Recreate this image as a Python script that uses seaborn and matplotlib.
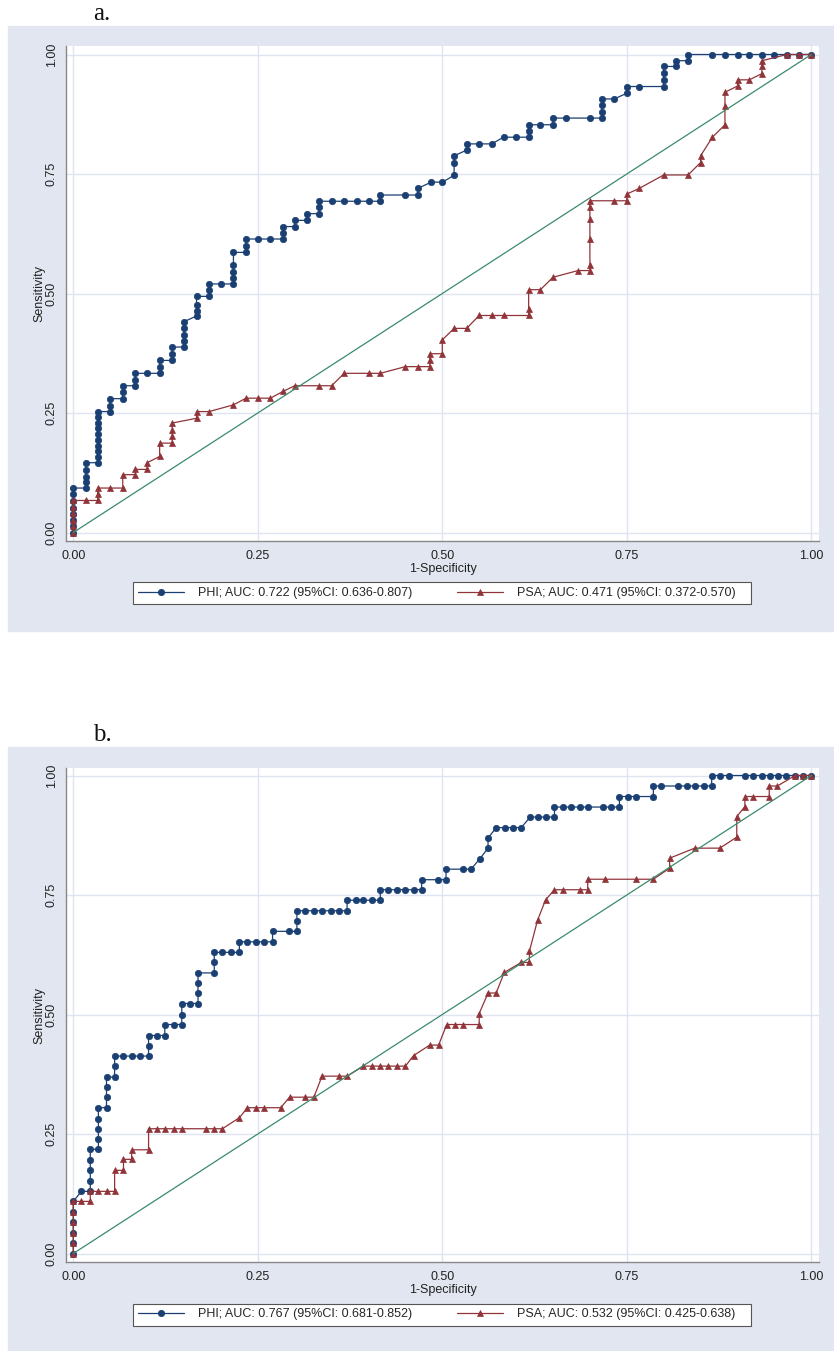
import matplotlib
matplotlib.use("Agg")
import matplotlib.pyplot as plt
import matplotlib.patches as mpatches
import pandas as pd
import seaborn as sns

### DATA ###
# panel a: PHI
phi_a_x = [0, 0, 0, 0, 0, 0, 0, 0,
           0.017, 0.017, 0.017, 0.017, 0.017,
           0.033, 0.033, 0.033, 0.033, 0.033, 0.033, 0.033, 0.033, 0.033, 0.033,
           0.050, 0.050, 0.050, 0.067, 0.067, 0.067, 0.084, 0.084, 0.084,
           0.100, 0.117, 0.117, 0.117, 0.134, 0.134, 0.134,
           0.150, 0.150, 0.150, 0.150, 0.150, 0.167, 0.167, 0.167, 0.167,
           0.184, 0.184, 0.184, 0.200, 0.217, 0.217, 0.217, 0.217, 0.217,
           0.234, 0.234, 0.234, 0.250, 0.267, 0.284, 0.284, 0.284,
           0.300, 0.300, 0.317, 0.317, 0.333, 0.333, 0.333,
           0.350, 0.367, 0.384, 0.400, 0.416, 0.416, 0.450, 0.467, 0.467,
           0.485, 0.500, 0.516, 0.516, 0.516, 0.533, 0.533, 0.550, 0.567,
           0.583, 0.600, 0.617, 0.617, 0.617, 0.633, 0.650, 0.650,
           0.667, 0.700, 0.716, 0.716, 0.716, 0.716, 0.733, 0.750, 0.750,
           0.767, 0.800, 0.800, 0.800, 0.800, 0.816, 0.816, 0.833, 0.833,
           0.866, 0.883, 0.900, 0.916, 0.933, 0.950, 0.967, 0.983, 1.0]
phi_a_y = [0, 0.013, 0.026, 0.039, 0.052, 0.065, 0.080, 0.093,
           0.093, 0.105, 0.117, 0.130, 0.146,
           0.146, 0.158, 0.170, 0.182, 0.194, 0.206, 0.218, 0.230, 0.242, 0.253,
           0.253, 0.265, 0.280, 0.280, 0.293, 0.307, 0.307, 0.320, 0.333,
           0.333, 0.333, 0.347, 0.360, 0.360, 0.374, 0.388,
           0.388, 0.400, 0.413, 0.427, 0.441, 0.453, 0.464, 0.476, 0.494,
           0.494, 0.507, 0.520, 0.520, 0.520, 0.532, 0.546, 0.560, 0.586,
           0.586, 0.600, 0.614, 0.614, 0.614, 0.614, 0.627, 0.640,
           0.640, 0.653, 0.653, 0.667, 0.667, 0.680, 0.693,
           0.693, 0.693, 0.693, 0.693, 0.693, 0.706, 0.706, 0.706, 0.720,
           0.733, 0.733, 0.747, 0.773, 0.788, 0.800, 0.813, 0.813, 0.813,
           0.827, 0.827, 0.827, 0.840, 0.853, 0.853, 0.853, 0.867,
           0.867, 0.867, 0.867, 0.880, 0.894, 0.907, 0.907, 0.919, 0.933,
           0.933, 0.933, 0.947, 0.961, 0.975, 0.975, 0.987, 0.987, 1.0,
           1.0, 1.0, 1.0, 1.0, 1.0, 1.0, 1.0, 1.0, 1.0]

# panel a: PSA
psa_a_x = [0, 0, 0, 0, 0, 0,
           0.017, 0.033, 0.033, 0.033, 0.050, 0.067, 0.067,
           0.084, 0.084, 0.100, 0.100, 0.117, 0.117,
           0.134, 0.134, 0.134, 0.134, 0.167, 0.167, 0.184,
           0.217, 0.234, 0.250, 0.267, 0.284,
           0.300, 0.333, 0.350, 0.367, 0.400, 0.416,
           0.450, 0.467, 0.483, 0.483, 0.483, 0.500, 0.500,
           0.516, 0.533, 0.550, 0.567, 0.583, 0.617, 0.617, 0.617, 0.633,
           0.650, 0.684, 0.700, 0.700, 0.700, 0.700, 0.700, 0.700,
           0.733, 0.750, 0.750, 0.767, 0.800, 0.833, 0.850, 0.850,
           0.866, 0.883, 0.883, 0.883, 0.900, 0.900, 0.916,
           0.933, 0.933, 0.933, 0.967, 0.983, 1.0]
psa_a_y = [0, 0.013, 0.027, 0.040, 0.054, 0.067,
           0.067, 0.067, 0.080, 0.093, 0.093, 0.093, 0.121,
           0.121, 0.132, 0.132, 0.146, 0.159, 0.187,
           0.187, 0.201, 0.215, 0.229, 0.239, 0.253, 0.253,
           0.267, 0.281, 0.281, 0.281, 0.295,
           0.307, 0.307, 0.307, 0.333, 0.333, 0.333,
           0.347, 0.347, 0.347, 0.361, 0.374, 0.374, 0.403,
           0.427, 0.427, 0.454, 0.454, 0.454, 0.454, 0.467, 0.508, 0.508,
           0.534, 0.548, 0.548, 0.560, 0.614, 0.655, 0.682, 0.694,
           0.694, 0.694, 0.708, 0.720, 0.748, 0.748, 0.774, 0.788,
           0.827, 0.853, 0.893, 0.921, 0.934, 0.947, 0.947,
           0.960, 0.975, 0.987, 1.0, 1.0, 1.0]

# panel b: PHI
phi_b_x = [0, 0, 0, 0, 0, 0,
           0.011, 0.023, 0.023, 0.023, 0.023, 0.023,
           0.034, 0.034, 0.034, 0.034, 0.034,
           0.045, 0.045, 0.045, 0.045, 0.056, 0.056, 0.056,
           0.068, 0.079, 0.090, 0.102, 0.102, 0.102,
           0.113, 0.124, 0.124, 0.136, 0.147, 0.147, 0.147,
           0.158, 0.169, 0.169, 0.169, 0.169,
           0.191, 0.191, 0.191, 0.202, 0.214, 0.225, 0.225,
           0.236, 0.248, 0.259, 0.270, 0.270,
           0.292, 0.303, 0.303, 0.303,
           0.314, 0.326, 0.337, 0.349, 0.360, 0.371, 0.371,
           0.383, 0.393, 0.405, 0.416, 0.416,
           0.427, 0.439, 0.450, 0.461, 0.472, 0.472,
           0.494, 0.505, 0.505, 0.528, 0.539, 0.551, 0.562, 0.562,
           0.573, 0.585, 0.596, 0.607, 0.619, 0.630, 0.641, 0.652, 0.652,
           0.663, 0.674, 0.686, 0.697, 0.718, 0.729, 0.740, 0.740,
           0.752, 0.763, 0.786, 0.786,
           0.797, 0.820, 0.831, 0.843, 0.854, 0.865, 0.865,
           0.876, 0.888, 0.910, 0.921, 0.933, 0.944, 0.955, 0.966, 0.978, 0.989, 1.0]
phi_b_y = [0, 0.022, 0.043, 0.066, 0.087, 0.109,
           0.130, 0.130, 0.151, 0.174, 0.195, 0.218,
           0.218, 0.240, 0.261, 0.282, 0.305,
           0.305, 0.327, 0.348, 0.369, 0.369, 0.392, 0.413,
           0.413, 0.413, 0.413, 0.413, 0.435, 0.456,
           0.456, 0.456, 0.479, 0.479, 0.479, 0.500, 0.523,
           0.523, 0.523, 0.544, 0.566, 0.587,
           0.587, 0.609, 0.630, 0.630, 0.630, 0.630, 0.652,
           0.652, 0.652, 0.652, 0.652, 0.674,
           0.674, 0.674, 0.695, 0.717,
           0.717, 0.717, 0.717, 0.717, 0.717, 0.717, 0.739,
           0.739, 0.739, 0.739, 0.739, 0.761,
           0.761, 0.761, 0.761, 0.761, 0.761, 0.782,
           0.782, 0.782, 0.804, 0.804, 0.804, 0.826, 0.848, 0.869,
           0.891, 0.891, 0.891, 0.891, 0.913, 0.913, 0.913, 0.913, 0.934,
           0.934, 0.934, 0.934, 0.934, 0.934, 0.934, 0.934, 0.956,
           0.956, 0.956, 0.956, 0.978,
           0.978, 0.978, 0.978, 0.978, 0.978, 0.978, 1.0,
           1.0, 1.0, 1.0, 1.0, 1.0, 1.0, 1.0, 1.0, 1.0, 1.0, 1.0]

# panel b: PSA
psa_b_x = [0, 0, 0, 0, 0, 0,
           0.011, 0.023, 0.023, 0.034, 0.045, 0.056, 0.056,
           0.068, 0.068, 0.079, 0.079, 0.102, 0.102,
           0.113, 0.124, 0.136, 0.147, 0.180, 0.191, 0.202,
           0.225, 0.236, 0.248, 0.259, 0.281,
           0.293, 0.314, 0.326, 0.337, 0.360, 0.371,
           0.393, 0.405, 0.416, 0.427, 0.439, 0.450,
           0.461, 0.483, 0.495, 0.506, 0.517, 0.528, 0.550, 0.550,
           0.562, 0.573, 0.584, 0.607, 0.618, 0.618, 0.629, 0.640,
           0.652, 0.663, 0.686, 0.697, 0.697, 0.720, 0.763, 0.786,
           0.808, 0.808, 0.842, 0.876, 0.899, 0.899, 0.910, 0.910,
           0.921, 0.943, 0.943, 0.954, 0.978, 0.989, 1.0]
psa_b_y = [0, 0.022, 0.043, 0.066, 0.087, 0.109,
           0.109, 0.109, 0.130, 0.130, 0.130, 0.130, 0.174,
           0.174, 0.197, 0.197, 0.217, 0.217, 0.261,
           0.261, 0.261, 0.261, 0.261, 0.261, 0.261, 0.261,
           0.284, 0.305, 0.305, 0.305, 0.305,
           0.327, 0.327, 0.327, 0.371, 0.371, 0.371,
           0.392, 0.392, 0.392, 0.392, 0.392, 0.392,
           0.414, 0.436, 0.436, 0.479, 0.479, 0.479, 0.479, 0.502,
           0.545, 0.545, 0.588, 0.609, 0.609, 0.632, 0.697, 0.740,
           0.761, 0.761, 0.761, 0.761, 0.783, 0.783, 0.783, 0.783,
           0.806, 0.827, 0.848, 0.848, 0.871, 0.914, 0.935, 0.956,
           0.956, 0.956, 0.978, 0.978, 1.0, 1.0, 1.0]

ref_line = [0, 1]

labels_a = ["PHI; AUC: 0.722 (95%CI: 0.636-0.807)", "PSA; AUC: 0.471 (95%CI: 0.372-0.570)"]
labels_b = ["PHI; AUC: 0.767 (95%CI: 0.681-0.852)", "PSA; AUC: 0.532 (95%CI: 0.425-0.638)"]
ticks = [0, 0.25, 0.5, 0.75, 1]
tick_labels = ["0.00", "0.25", "0.50", "0.75", "1.00"]

### STYLE ###
W, H = 834, 1351
NAVY = '#1a3f73'
MAROON = '#913439'
GREEN = '#3a8a6c'
GREY_BG = '#e1e6f0'
GRID = '#dfe5f0'

sns.set_theme(style="white")
plt.rcParams['font.family'] = ['Liberation Sans', 'DejaVu Sans']

fig = plt.figure(figsize=(W / 100, H / 100), dpi=100)
fig.patch.set_facecolor('white')


def draw_panel(letter, bg_top, bg_bot, ax_top, ax_bot, title_y, leg_y,
               phi_x, phi_y, psa_x, psa_y, labels):
    # grey graph region, behind the axes
    fig.patches.append(mpatches.Rectangle((8 / W, 1 - bg_bot / H), 825 / W, (bg_bot - bg_top) / H,
                                          transform=fig.transFigure, color=GREY_BG, zorder=-10))
    fig.text(93 / W, 1 - title_y / H, letter, family=['Liberation Serif'], fontsize=18,
             va='baseline', ha='left', color='#111')

    ax = fig.add_axes([66 / W, 1 - ax_bot / H, (819 - 66) / W, (ax_bot - ax_top) / H])
    ax.set_facecolor('white')

    df_phi = pd.DataFrame({'x': phi_x, 'y': phi_y})
    df_psa = pd.DataFrame({'x': psa_x, 'y': psa_y})
    sns.lineplot(data=df_phi, x='x', y='y', sort=False, estimator=None, color=NAVY,
                 marker='o', markersize=4.6, markeredgecolor=NAVY, markeredgewidth=0.5,
                 linewidth=0.9, label=labels[0], ax=ax, zorder=3)
    sns.lineplot(data=df_psa, x='x', y='y', sort=False, estimator=None, color=MAROON,
                 marker='^', markersize=5.0, markeredgecolor=MAROON, markeredgewidth=0.5,
                 linewidth=0.9, label=labels[1] + '   ', ax=ax, zorder=4)
    sns.lineplot(x=ref_line, y=ref_line, color=GREEN, linewidth=0.9, ax=ax, zorder=5)

    # axis limits from pixel positions of 0 and 1
    ax.set_xlim((66 - 73.3) / 738, (819 - 73.3) / 738)
    y0 = ax_bot - 8.5
    ax.set_ylim(-(ax_bot - y0) / 478, (y0 - ax_top) / 478)

    ax.set_xticks(ticks)
    ax.set_xticklabels(tick_labels)
    ax.set_yticks(ticks)
    ax.set_yticklabels(tick_labels, rotation=90, va='center')
    ax.tick_params(direction='out', length=4, width=0.8, color='#777777', pad=2.5,
                   labelsize=9, labelcolor='#222222')
    ax.tick_params(axis='y', pad=2)
    ax.grid(True, color=GRID, linewidth=1)
    ax.set_axisbelow(True)
    for s in ['top', 'right']:
        ax.spines[s].set_visible(False)
    for s in ['left', 'bottom']:
        ax.spines[s].set_color('#888888')
        ax.spines[s].set_linewidth(1)

    ax.set_xlabel('1-Specificity', fontsize=9, labelpad=1, color='#222222')
    ax.set_ylabel('Sensitivity', fontsize=9, labelpad=0, color='#222222')

    handles, lbls = ax.get_legend_handles_labels()
    leg = ax.legend(handles[:2], lbls[:2], loc='center', ncol=2,
                    bbox_to_anchor=(442 / W, 1 - leg_y / H), bbox_transform=fig.transFigure,
                    fontsize=9, frameon=True, fancybox=False, framealpha=1,
                    edgecolor='#555555', borderpad=0.4, handlelength=3.7,
                    handletextpad=1.1, columnspacing=3.6, numpoints=1)
    leg.get_frame().set_linewidth(0.8)
    return ax


draw_panel('a.', 26, 631, 46, 541, 20, 593.5,
           phi_a_x, phi_a_y, psa_a_x, psa_a_y, labels_a)
draw_panel('b.', 747, 1351, 768, 1262, 741, 1314.5,
           phi_b_x, phi_b_y, psa_b_x, psa_b_y, labels_b)

fig.savefig('out.png', dpi=100, facecolor='white')
